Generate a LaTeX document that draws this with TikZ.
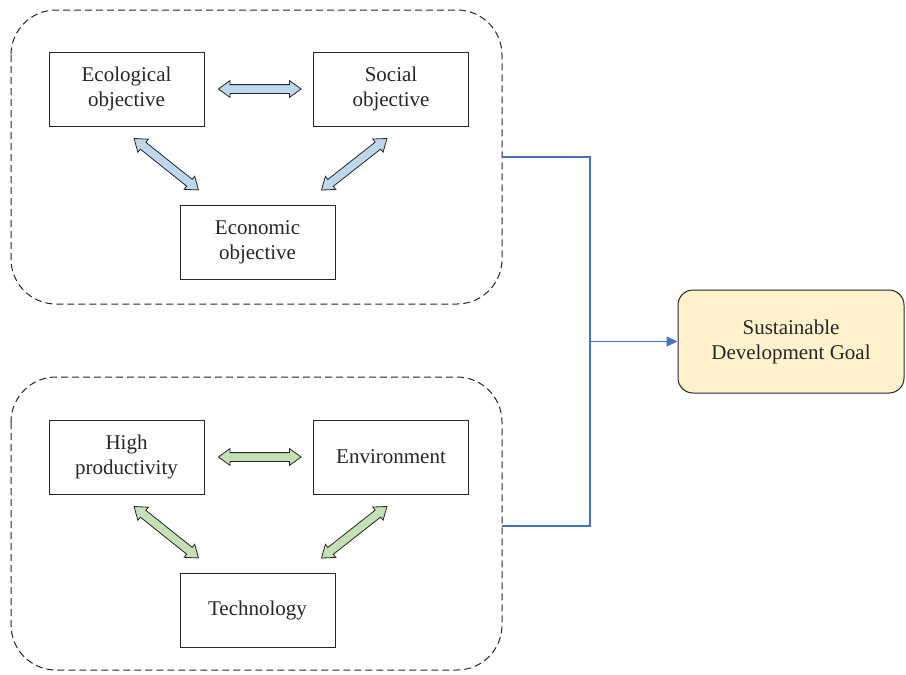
\documentclass[tikz,border=0pt]{standalone}
\usepackage{fontspec}
\setmainfont{Liberation Serif}
\usepackage{xcolor}
\usetikzlibrary{calc,shapes.arrows,arrows.meta}
\definecolor{arrblue}{HTML}{BDD7EE}
\definecolor{arrgreen}{HTML}{C5E0B4}
\definecolor{link}{HTML}{4472C4}
\definecolor{goalfill}{HTML}{FFF2CC}
\definecolor{edge}{HTML}{262626}
\tikzset{
  box/.style={draw=edge, line width=0.9pt, minimum width=155pt, minimum height=74pt,
    align=center, font=\fontsize{21}{25}\selectfont, text=edge},
  group/.style={draw=edge, line width=1pt, dash pattern=on 7pt off 4pt, rounded corners=45pt},
  fatarr/.style={double arrow, draw=edge, line width=0.8pt, inner xsep=0pt, inner ysep=4pt,
    double arrow head extend=4pt, double arrow tip angle=72},
  goal/.style={draw=edge, line width=1pt, fill=goalfill, rounded corners=15pt,
    minimum width=226pt, minimum height=103pt, align=center,
    font=\fontsize{21}{25}\selectfont, text=edge},
  link/.style={draw=link, line width=1.1pt}
}
\newcommand{\fatarrow}[3]{%
  \path let \p1=($(#2)-(#1)$), \n1={atan2(\y1,\x1)}, \n2={veclen(\x1,\y1)} in
    node[fatarr, fill=#3, rotate=\n1, minimum height=\n2] at ($(#1)!0.5!(#2)$) {};}

\begin{document}
\begin{tikzpicture}[x=1pt,y=-1pt]
\useasboundingbox (0,0) rectangle (906,675);

% objectives group
\draw[group] (11,10) rectangle (502,304);
\node[box] (eco) at (126.5,89) {Ecological\\objective};
\node[box] (soc) at (391,89) {Social\\objective};
\node[box] (econ) at (257.5,242.5) {Economic\\objective};

% means group
\draw[group] (11,377) rectangle (502,670);
\node[box] (prod) at (126.5,457) {High\\productivity};
\node[box] (env) at (391,457) {Environment};
\node[box] (tech) at (257.5,610.5) {Technology};

% goal
\node[goal] (sdg) at (791,341.5) {Sustainable\\Development Goal};

% arrow ends
\coordinate (a1) at ($(eco.east)+(14,0)$);
\coordinate (a2) at ($(soc.west)+(-12,0)$);
\coordinate (a3) at ($(eco.south)+(7.5,12)$);
\coordinate (a4) at ($(econ.north west)+(19,-15)$);
\coordinate (a5) at ($(soc.south)+(-4,12)$);
\coordinate (a6) at ($(econ.north east)+(-14,-15)$);
\coordinate (b1) at ($(prod.east)+(14,0)$);
\coordinate (b2) at ($(env.west)+(-12,0)$);
\coordinate (b3) at ($(prod.south)+(7.5,12)$);
\coordinate (b4) at ($(tech.north west)+(19,-15)$);
\coordinate (b5) at ($(env.south)+(-4,12)$);
\coordinate (b6) at ($(tech.north east)+(-14,-15)$);

\fatarrow{a1}{a2}{arrblue}
\fatarrow{a3}{a4}{arrblue}
\fatarrow{a5}{a6}{arrblue}
\fatarrow{b1}{b2}{arrgreen}
\fatarrow{b3}{b4}{arrgreen}
\fatarrow{b5}{b6}{arrgreen}

% links to goal
\coordinate (top) at (502,157);
\coordinate (bot) at (502,526);
\coordinate (join) at (590,341.5);
\draw[link] (top) -| (join) |- (bot);
\draw[link, -{Triangle[length=11pt, width=10pt]}] (join) -- (sdg.west);
\end{tikzpicture}
\end{document}
